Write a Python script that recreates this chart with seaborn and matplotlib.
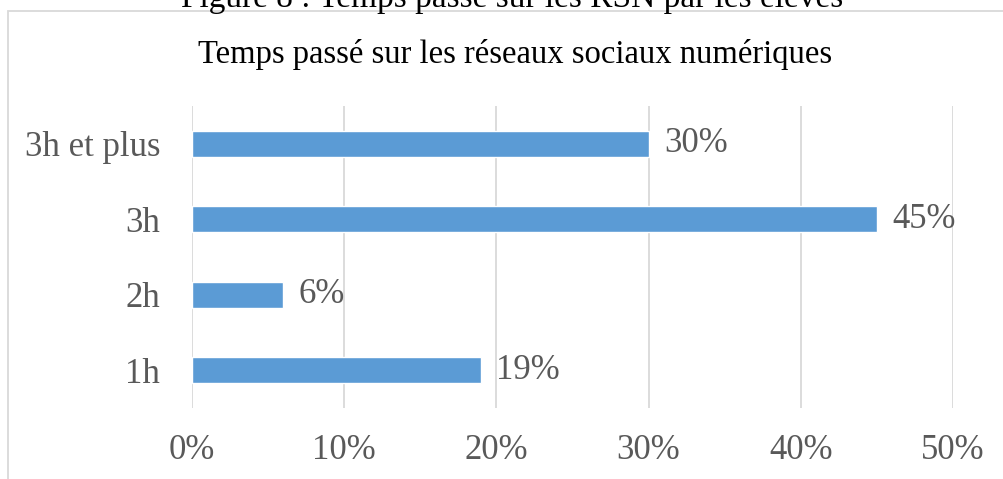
import matplotlib
matplotlib.use("Agg")
import matplotlib.pyplot as plt
import seaborn as sns
import pandas as pd
from matplotlib.patches import Rectangle

categories = ["3h et plus", "3h", "2h", "1h"]
values = [30, 45, 6, 19]
xticks = [0, 10, 20, 30, 40, 50]
xtick_labels = ["0%", "10%", "20%", "30%", "40%", "50%"]
title = "Temps passé sur les réseaux sociaux numériques"
caption = "Figure 8 : Temps passé sur les RSN par les élèves"

sns.set_theme(style="white")
plt.rcParams["font.family"] = ["Liberation Serif", "DejaVu Serif"]

df = pd.DataFrame({"cat": categories, "val": values})

W, H = 1004, 479
fig = plt.figure(figsize=(W / 100, H / 100), dpi=100)
ax = fig.add_axes([192 / W, 71 / H, 761 / W, 302 / H])

sns.barplot(data=df, y="cat", x="val", order=categories, color="#5B9BD5",
            saturation=1, width=0.35, ax=ax, zorder=3)

ax.set_xlim(0, 50)
ax.set_xticks(xticks)
ax.set_xticklabels(xtick_labels)
ax.set_xlabel("")
ax.set_ylabel("")
for s in ax.spines.values():
    s.set_visible(False)
ax.grid(False)
for t in xticks:
    ax.axvline(t, color="#D9D9D9", lw=1.3, zorder=1)
ax.tick_params(axis="x", length=0, pad=19, labelsize=25, labelcolor="#595959")
ax.tick_params(axis="y", length=0, pad=23, labelsize=25, labelcolor="#595959")

for i, v in enumerate(values):
    ax.annotate(f"{v}%", xy=(v, i), xytext=(11, 0), textcoords="offset points",
                va="center", ha="left", fontsize=25, color="#595959", zorder=5)

fig.text(0.513, 1 - 55 / H, title, ha="center", va="center", fontsize=23.5, color="black")
fig.text(0.51, 1 - 7 / H, caption, ha="center", va="baseline", fontsize=24, color="black")

fig.patches.append(Rectangle((8 / W, -0.05), 1.2, 1 - 11 / H + 0.05,
                             transform=fig.transFigure, fill=False,
                             edgecolor="#D9D9D9", lw=1.3, zorder=0))

fig.savefig("out.png", dpi=100)
